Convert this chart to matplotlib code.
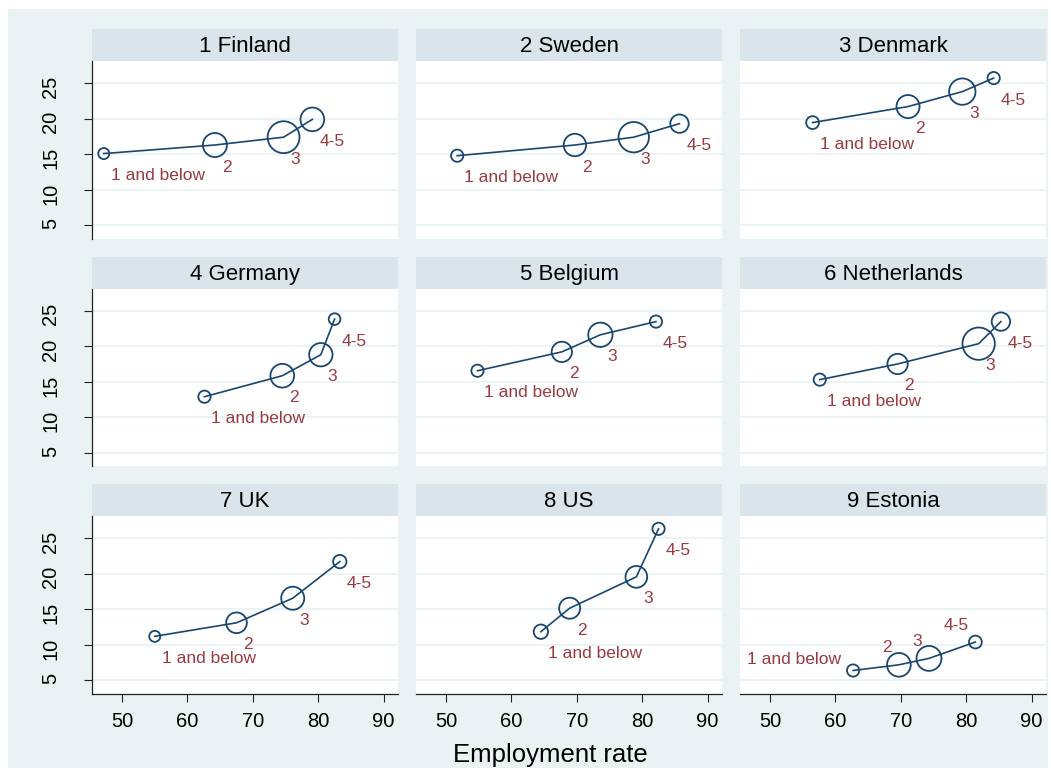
import numpy as np
import matplotlib.pyplot as plt
from matplotlib.patches import Rectangle

plt.rcParams['font.family'] = ['Liberation Sans', 'DejaVu Sans']

# Datos
paises = ['1 Finland', '2 Sweden', '3 Denmark', '4 Germany', '5 Belgium',
          '6 Netherlands', '7 UK', '8 US', '9 Estonia']
niveles = ['1 and below', '2', '3', '4-5']

# Tasa de empleo (eje x) por nivel
empleo = [
    [47.2, 64.2, 74.7, 79.1],
    [51.7, 69.7, 78.7, 85.7],
    [56.5, 71.1, 79.4, 84.2],
    [62.6, 74.5, 80.4, 82.5],
    [54.8, 67.7, 73.6, 82.1],
    [57.6, 69.5, 81.9, 85.3],
    [55.0, 67.5, 76.1, 83.3],
    [64.5, 68.9, 79.1, 82.5],
    [62.7, 69.7, 74.3, 81.4],
]
# Valor del eje y por nivel
valor = [
    [15.1, 16.3, 17.4, 19.9],
    [14.8, 16.3, 17.4, 19.3],
    [19.45, 21.7, 23.8, 25.7],
    [12.9, 15.85, 18.8, 23.8],
    [16.55, 19.2, 21.6, 23.45],
    [15.3, 17.5, 20.35, 23.45],
    [11.2, 13.1, 16.55, 21.7],
    [11.85, 15.15, 19.55, 26.3],
    [6.4, 7.2, 8.1, 10.4],
]
# Peso de cada grupo (tamaño del marcador)
peso = [
    [10, 41, 70, 40],
    [12, 36, 64, 25],
    [13, 38, 49, 12],
    [12, 40, 39, 11],
    [12, 30, 42, 12],
    [12, 30, 72, 25],
    [10, 31, 38, 14],
    [16, 32, 34, 12],
    [12, 40, 44, 13],
]
# Posición de la etiqueta (estilo reloj de Stata)
pos_etiqueta = [[5, 5, 5, 5]] * 8 + [[10, 11, 11, 11]]

xticks = [50, 60, 70, 80, 90]
yticks = [5, 10, 15, 20, 25]

# Colores estilo s2color
fondo = '#EAF2F3'
franja = '#D9E5EB'
azul = '#1A476F'
granate = '#9A3B41'

W, H = 1051, 771
fig = plt.figure(figsize=(W / 100, H / 100), dpi=100, facecolor='white')


def fx(px):
    return px / W


def fy(py):
    return 1 - py / H


fig.add_artist(Rectangle((fx(8), fy(768)), fx(1048) - fx(8), fy(9) - fy(768),
                         transform=fig.transFigure, facecolor=fondo,
                         edgecolor='none', zorder=-10))

col_izq = [92, 416, 740]
fila_sup = [61, 288.5, 516]
ancho, alto, alto_franja = 306, 178, 32

desplaz = {5: ((7, -22), 'left'), 11: ((-7, 17), 'right'), 10: ((-12, 11), 'right')}

for i, nombre in enumerate(paises):
    f, c = divmod(i, 3)
    izq, sup = col_izq[c], fila_sup[f]

    # Franja del título
    st = fig.add_axes([fx(izq), fy(sup), ancho / W, alto_franja / H])
    st.set_facecolor(franja)
    st.set_xticks([])
    st.set_yticks([])
    for s in st.spines.values():
        s.set_visible(False)
    st.text(0.5, 8.5 / alto_franja, nombre, ha='center', va='baseline',
            fontsize=16, transform=st.transAxes)

    ax = fig.add_axes([fx(izq), fy(sup + alto), ancho / W, alto / H])
    ax.set_facecolor('white')
    ax.set_xlim(45.4, 92.2)
    ax.set_ylim(3.1, 28.1)
    ax.set_xticks(xticks)
    ax.set_yticks(yticks)
    ax.yaxis.grid(True, color=fondo, lw=1.3)
    ax.set_axisbelow(True)
    for lado, s in ax.spines.items():
        s.set_visible((lado == 'left' and c == 0) or (lado == 'bottom' and f == 2))
        s.set_linewidth(0.9)
        s.set_color('#222222')
    ax.tick_params(axis='y', left=(c == 0), labelleft=(c == 0), labelrotation=90,
                   length=6, width=0.8, pad=17, labelsize=14.5, color='#222222')
    ax.tick_params(axis='x', bottom=(f == 2), labelbottom=(f == 2),
                   length=6, width=0.8, pad=7, labelsize=14.5, color='#222222')

    x = np.array(empleo[i])
    y = np.array(valor[i])
    r = 2 * np.sqrt(np.array(peso[i]))  # radio en píxeles
    tam = (2 * (r - 0.8) * 0.72) ** 2
    ax.plot(x, y, color=azul, lw=1.2, zorder=3)
    ax.scatter(x, y, s=tam, facecolors='none', edgecolors=azul, linewidths=1.3, zorder=4)

    for xi, yi, lab, p in zip(x, y, niveles, pos_etiqueta[i]):
        off, ha = desplaz[p]
        ax.annotate(lab, (xi, yi), xytext=off, textcoords='offset pixels',
                    color=granate, fontsize=12.5, ha=ha, va='center', zorder=5)

fig.text(fx(550), fy(762), 'Employment rate', ha='center', va='baseline', fontsize=18.5)

fig.savefig('out.png', dpi=100, facecolor='white')
